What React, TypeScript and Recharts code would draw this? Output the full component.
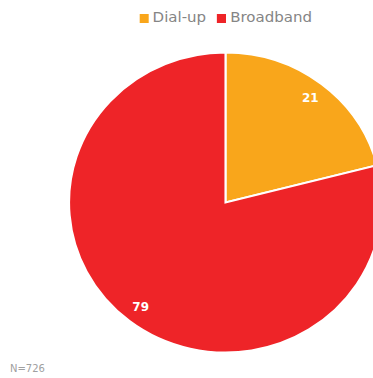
import React from "react";
import { PieChart, Pie, Cell, Legend } from "recharts";

const categories = ["Dial-up", "Broadband"];
const values = [21, 79];
const colors = ["#F9A61B", "#EE2428"];
const noteText = "N=726";

const data = categories.map((name, i) => ({ name, value: values[i] }));

const RADIAN = Math.PI / 180;

const renderLabel = (props: any) => {
  const { cx, cy, midAngle, outerRadius, value } = props;
  const r = outerRadius * 0.885;
  const x = cx + r * Math.cos(-midAngle * RADIAN);
  const y = cy + r * Math.sin(-midAngle * RADIAN);
  return (
    <text
      x={x}
      y={y}
      fill="#ffffff"
      textAnchor="middle"
      dominantBaseline="central"
      fontSize={11.5}
      fontWeight="bold"
      fontFamily="DejaVu Sans, Verdana, sans-serif"
    >
      {value}
    </text>
  );
};

export default function App() {
  return (
    <div
      style={{
        position: "absolute",
        left: 0,
        top: 0,
        width: 373,
        height: 378,
        overflow: "hidden",
        background: "#ffffff",
      }}
    >
      <div
        style={{
          width: 451,
          height: 378,
          transform: "scaleX(1.043)",
          transformOrigin: "225.5px 0px",
        }}
      >
        <PieChart width={451} height={378} margin={{ top: 0, right: 0, bottom: 0, left: 0 }}>
          <Legend
            verticalAlign="top"
            align="center"
            iconType="square"
            iconSize={9}
            itemSorter={(item: any) => categories.indexOf(item.value)}
            wrapperStyle={{
              top: 9,
              left: 5,
              fontFamily: "DejaVu Sans, Verdana, sans-serif",
              fontSize: 14.4,
            }}
            formatter={(v: any) => <span style={{ color: "#858585" }}>{v}</span>}
          />
          <Pie
            data={data}
            dataKey="value"
            nameKey="name"
            cx={225.5}
            cy={186.5}
            outerRadius={150}
            startAngle={90}
            endAngle={-270}
            stroke="#ffffff"
            strokeWidth={2}
            label={renderLabel}
            labelLine={false}
            isAnimationActive={false}
          >
            {data.map((d, i) => (
              <Cell key={d.name} fill={colors[i]} />
            ))}
          </Pie>
        </PieChart>
      </div>
      <div
        style={{
          position: "absolute",
          left: 10,
          top: 364,
          fontSize: 10,
          color: "#a0a0a0",
          fontFamily: "DejaVu Sans, Verdana, sans-serif",
          lineHeight: "10px",
        }}
      >
        {noteText}
      </div>
    </div>
  );
}
